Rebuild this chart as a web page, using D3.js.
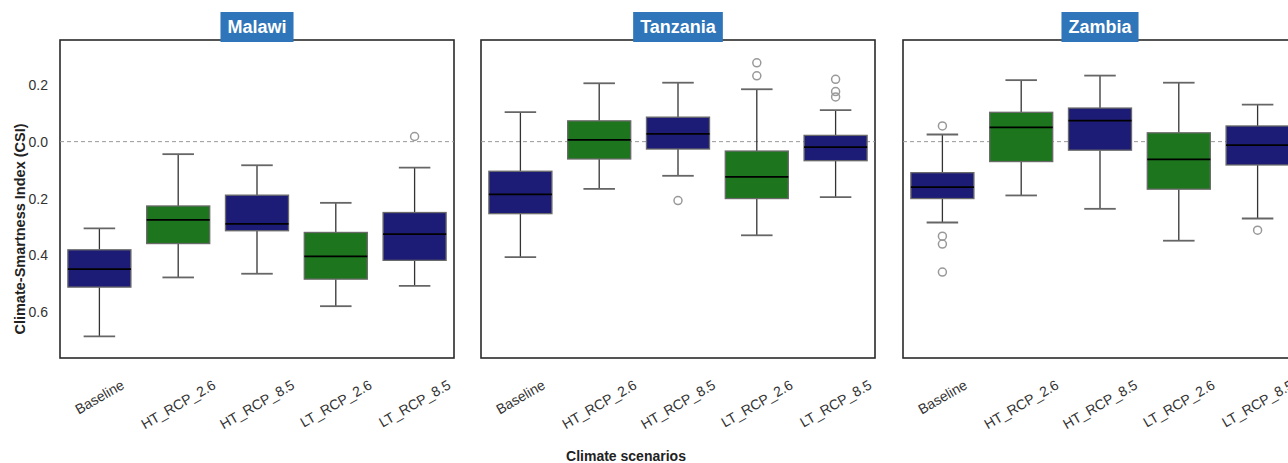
<!DOCTYPE html>
<html><head><meta charset="utf-8">
<script src="https://cdn.jsdelivr.net/npm/d3@7"></script>
<style>
body{margin:0;background:#fff;}
text{font-family:"Liberation Sans",Arial,Helvetica,sans-serif;}
</style></head>
<body><svg id="c" width="1288" height="463"></svg>
<script>
const countries = ["Malawi", "Tanzania", "Zambia"];
const scenarios = ["Baseline", "HT_RCP_2.6", "HT_RCP_8.5", "LT_RCP_2.6", "LT_RCP_8.5"];
const scenarioColors = ["#1c1c76", "#1d761d", "#1c1c76", "#1d761d", "#1c1c76"];
// [lower whisker, Q1, median, Q3, upper whisker] per scenario
const malawiStats = [
  [-0.684, -0.511, -0.448, -0.380, -0.305],
  [-0.477, -0.358, -0.275, -0.226, -0.044],
  [-0.464, -0.313, -0.289, -0.188, -0.083],
  [-0.578, -0.483, -0.403, -0.319, -0.215],
  [-0.507, -0.417, -0.325, -0.249, -0.091]
];
const tanzaniaStats = [
  [-0.406, -0.253, -0.185, -0.104, 0.104],
  [-0.166, -0.061, 0.006, 0.073, 0.205],
  [-0.120, -0.026, 0.027, 0.086, 0.207],
  [-0.329, -0.200, -0.124, -0.033, 0.184],
  [-0.195, -0.067, -0.019, 0.022, 0.111]
];
const zambiaStats = [
  [-0.284, -0.200, -0.160, -0.109, 0.025],
  [-0.189, -0.070, 0.050, 0.103, 0.216],
  [-0.236, -0.030, 0.074, 0.118, 0.232],
  [-0.348, -0.167, -0.062, 0.031, 0.207],
  [-0.270, -0.082, -0.012, 0.055, 0.130]
];
const malawiOutliers = [[], [], [], [], [0.018]];
const tanzaniaOutliers = [[], [], [-0.207], [0.277, 0.231], [0.219, 0.176, 0.157]];
const zambiaOutliers = [[0.055, -0.332, -0.360, -0.458], [], [], [], [-0.311]];
const yTickValues = [0.2, 0.0, -0.2, -0.4, -0.6];
const yTickLabels = ["0.2", "0.0", "0.2", "0.4", "0.6"];
const yTitle = "Climate-Smartness Index (CSI)";
const xTitle = "Climate scenarios";

const statsByCountry = [malawiStats, tanzaniaStats, zambiaStats];
const outliersByCountry = [malawiOutliers, tanzaniaOutliers, zambiaOutliers];

const svg = d3.select("#c");
const panelLeft = [60, 481, 903], panelW = 394, pTop = 40, pBottom = 358;
const y = d3.scaleLinear().domain([-0.76, 0.357]).range([pBottom, pTop]);

countries.forEach((country, ci) => {
  const x0 = panelLeft[ci];
  const x = d3.scaleBand().domain(scenarios).range([x0, x0 + panelW]).paddingInner(0).paddingOuter(0);
  const bw = x.bandwidth() * 0.8;
  const g = svg.append("g");
  g.append("rect").attr("x", x0).attr("y", pTop).attr("width", panelW).attr("height", pBottom - pTop)
    .attr("fill", "#fff").attr("stroke", "#2a2a2a").attr("stroke-width", 1.6);
  g.append("line").attr("x1", x0).attr("x2", x0 + panelW).attr("y1", y(0)).attr("y2", y(0))
    .attr("stroke", "#9a9a9a").attr("stroke-width", 1).attr("stroke-dasharray", "4,3");
  scenarios.forEach((s, si) => {
    const [lo, q1, med, q3, hi] = statsByCountry[ci][si];
    const cx = x(s) + x.bandwidth() / 2;
    g.append("line").attr("x1", cx).attr("x2", cx).attr("y1", y(hi)).attr("y2", y(q3)).attr("stroke", "#333").attr("stroke-width", 1.3);
    g.append("line").attr("x1", cx).attr("x2", cx).attr("y1", y(q1)).attr("y2", y(lo)).attr("stroke", "#333").attr("stroke-width", 1.3);
    [hi, lo].forEach(v => g.append("line").attr("x1", cx - bw * 0.25).attr("x2", cx + bw * 0.25)
      .attr("y1", y(v)).attr("y2", y(v)).attr("stroke", "#666").attr("stroke-width", 1.8));
    g.append("rect").attr("x", cx - bw / 2).attr("y", y(q3)).attr("width", bw).attr("height", y(q1) - y(q3))
      .attr("fill", scenarioColors[si]).attr("stroke", "#6a6a6a").attr("stroke-width", 1.3);
    g.append("line").attr("x1", cx - bw / 2).attr("x2", cx + bw / 2).attr("y1", y(med)).attr("y2", y(med))
      .attr("stroke", "#000").attr("stroke-width", 1.8);
    outliersByCountry[ci][si].forEach(v => g.append("circle").attr("cx", cx).attr("cy", y(v)).attr("r", 4)
      .attr("fill", "none").attr("stroke", "#999").attr("stroke-width", 1.5));
    const t = g.append("text").text(s).attr("font-size", "14px").attr("fill", "#333")
      .attr("text-anchor", "middle").attr("dominant-baseline", "central");
    const w = t.node().getComputedTextLength(), h = 15;
    const a = Math.PI / 6;
    const cy = 377 + (w * Math.sin(a) + h * Math.cos(a)) / 2;
    t.attr("transform", `translate(${cx},${cy}) rotate(-30)`);
  });
  const cxp = x0 + panelW / 2;
  const lg = svg.append("g");
  const rect = lg.append("rect").attr("y", 12).attr("height", 30).attr("fill", "#2f75b9");
  const lbl = lg.append("text").text(country).attr("x", cxp).attr("y", 33).attr("text-anchor", "middle")
    .attr("font-size", "18px").attr("font-weight", "bold").attr("fill", "#fff");
  const lw = lbl.node().getComputedTextLength();
  rect.attr("x", cxp - lw / 2 - 7).attr("width", lw + 14);
});

const yAxis = svg.append("g").attr("transform", `translate(${panelLeft[0]},0)`)
  .call(d3.axisLeft(y).tickValues(yTickValues).tickSize(0).tickPadding(12)
    .tickFormat((d, i) => yTickLabels[i]));
yAxis.select(".domain").remove();
yAxis.selectAll("text").attr("font-size", "14px").attr("fill", "#333")
  .style("font-family", '"Liberation Sans",Arial,sans-serif');

svg.append("text").text(yTitle).attr("transform", "translate(25,229) rotate(-90)")
  .attr("text-anchor", "middle").attr("font-size", "14.5px").attr("font-weight", "bold").attr("fill", "#222");
svg.append("text").text(xTitle).attr("x", 626).attr("y", 461).attr("text-anchor", "middle")
  .attr("font-size", "14px").attr("font-weight", "bold").attr("fill", "#222");
</script></body></html>
